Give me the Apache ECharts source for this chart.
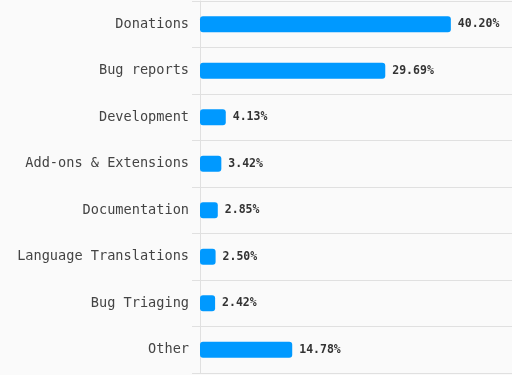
<!DOCTYPE html>
<html><head><meta charset="utf-8">
<script src="https://cdn.jsdelivr.net/npm/echarts@6/dist/echarts.min.js"></script>
<style>html,body{margin:0;padding:0;background:#fafafa;}#c{width:512px;height:375px;}</style>
</head><body><div id="c"></div>
<script>
const categories = ["Donations","Bug reports","Development","Add-ons & Extensions","Documentation","Language Translations","Bug Triaging","Other"];
const values = [40.20, 29.69, 4.13, 3.42, 2.85, 2.50, 2.42, 14.78];
const chart = echarts.init(document.getElementById('c'));
chart.setOption({
  backgroundColor: '#fafafa',
  animation: false,
  grid: {left: 200, right: 0, top: 1, bottom: 2, containLabel: false},
  xAxis: {type: 'value', min: 0, max: 50, show: false},
  yAxis: {
    type: 'category', data: categories, inverse: true,
    axisLine: {show: true, lineStyle: {color: '#e0e0e0', width: 1}},
    axisTick: {show: true, length: 8, lineStyle: {color: '#e0e0e0'}},
    splitLine: {show: true, lineStyle: {color: '#e0e0e0', width: 1}},
    axisLabel: {color: '#444', fontFamily: 'DejaVu Sans Mono', fontSize: 13.6, margin: 11}
  },
  series: [{
    type: 'bar', data: values, barWidth: 16,
    itemStyle: {color: '#0099ff', borderRadius: 3},
    label: {show: true, position: 'right', distance: 7, color: '#333', fontFamily: 'DejaVu Sans Mono', fontSize: 11.5, fontWeight: 'bold',
      formatter: p => p.value.toFixed(2) + '%'}
  }]
});
</script></body></html>
